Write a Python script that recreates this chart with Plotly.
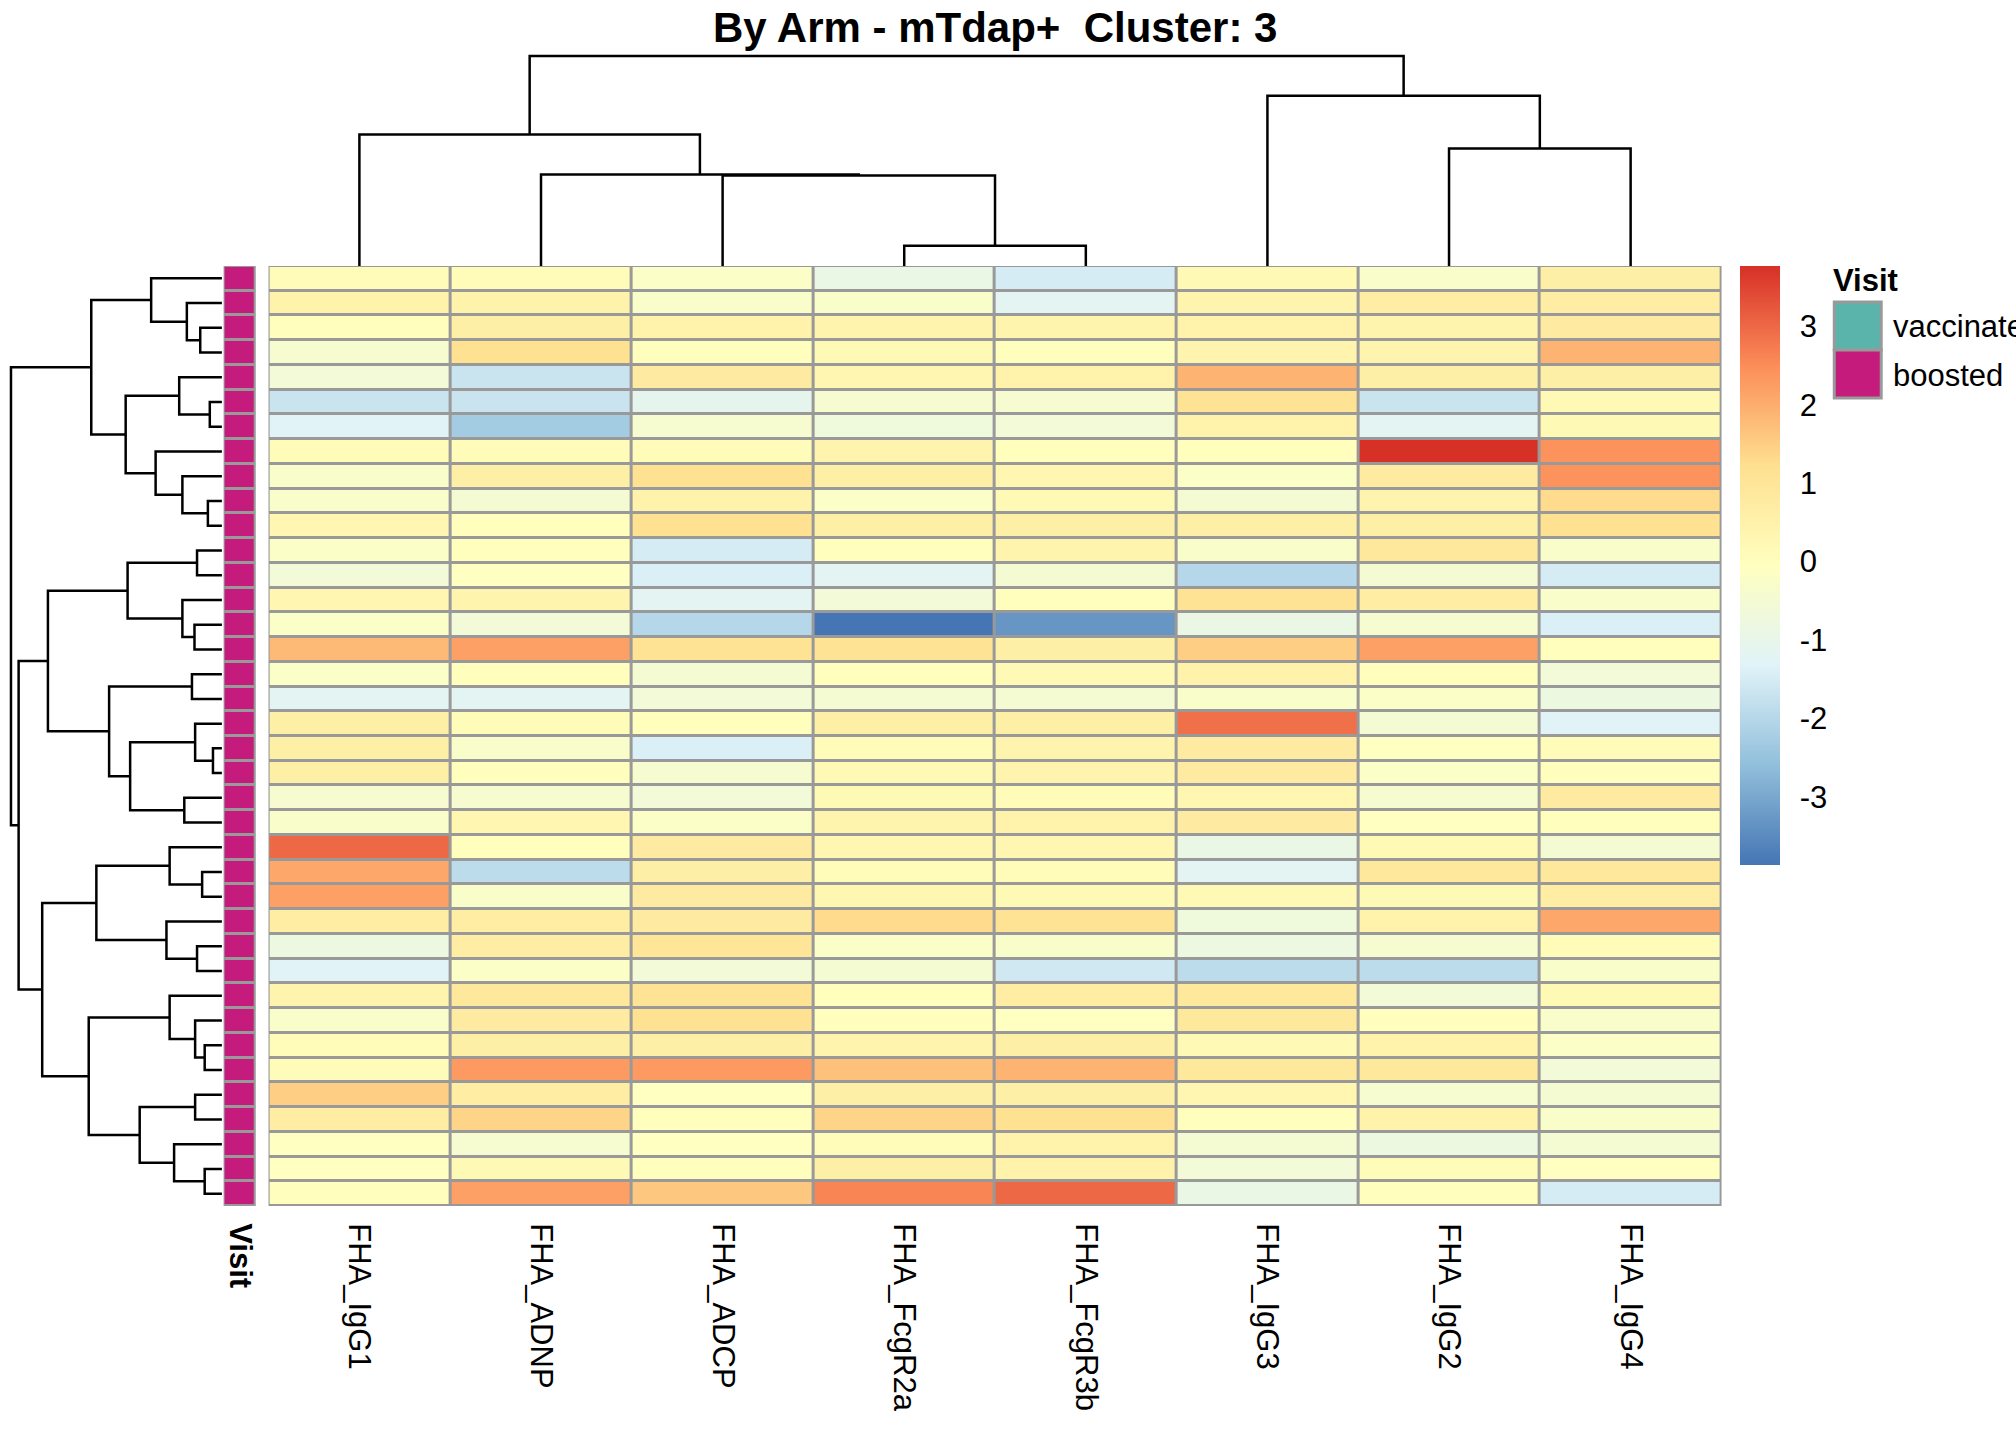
import plotly.graph_objects as go

W, H = 2016, 1440

# columns of the heatmap (display order, left to right)
features = ["FHA_IgG1", "FHA_ADNP", "FHA_ADCP", "FHA_FcgR2a",
            "FHA_FcgR3b", "FHA_IgG3", "FHA_IgG2", "FHA_IgG4"]

# scaled values per feature, rows in display order (top to bottom)
fha_igg1 = [0.1, 0.5, 0.0, -0.4, -0.6, -1.7, -1.3, 0.1, -0.3, -0.3, 0.3, -0.2, -0.6,
            0.3, -0.2, 1.8, -0.2, -1.2, 0.6, 0.6, 0.6, -0.4, -0.3, 3.0, 2.1, 2.2,
            0.7, -0.8, -1.3, 0.4, -0.3, 0.1, 0.1, 1.5, 0.7, -0.1, -0.1, 0.0]
fha_adnp = [0.1, 0.5, 0.6, 1.2, -1.7, -1.7, -2.3, 0.1, 0.6, -0.5, 0.0, 0.0, -0.1,
            0.4, -0.6, 2.2, 0.0, -1.2, 0.1, -0.3, 0.0, -0.4, 0.3, 0.0, -1.9, -0.3,
            0.7, 0.7, -0.2, 0.9, 0.8, 0.6, 2.3, 0.7, 1.4, -0.4, 0.2, 2.2]
fha_adcp = [-0.2, -0.3, 0.5, 0.0, 0.8, -1.1, -0.4, 0.1, 1.2, 0.5, 1.2, -1.5, -1.4,
            -1.2, -2.0, 1.1, -0.5, -0.6, 0.0, -1.4, -0.4, -0.6, -0.2, 0.8, 0.6, 0.8,
            0.8, 1.0, -0.6, 1.1, 1.2, 0.6, 2.3, -0.1, 0.0, -0.1, 0.0, 1.6]
fha_fcgr2a = [-0.9, -0.3, 0.4, 0.2, 0.3, -0.4, -0.7, 0.4, 0.6, -0.2, 0.6, 0.0, -1.2,
              -0.6, -3.87, 1.1, 0.0, -0.5, 0.6, 0.1, 0.2, 0.2, 0.4, 0.3, 0.1, 0.3,
              1.3, -0.2, -0.5, 0.0, 0.0, 0.4, 1.7, 0.6, 1.4, 0.1, 0.6, 2.6]
fha_fcgr3b = [-1.5, -1.2, 0.4, 0.0, 0.5, -0.4, -0.6, 0.0, 0.3, 0.2, 0.6, 0.4, -0.5,
              0.0, -3.3, 0.6, 0.2, -0.5, 0.6, 0.4, 0.4, 0.1, 0.5, 0.3, 0.1, 0.2,
              1.1, -0.3, -1.6, 0.7, -0.1, 0.6, 1.9, 0.6, 1.2, 0.5, 0.5, 3.0]
fha_igg3 = [0.2, 0.4, 0.5, 0.4, 1.9, 1.1, 0.5, 0.0, -0.2, -0.5, 0.6, -0.3, -2.0,
            1.1, -0.9, 1.5, 0.5, -0.3, 2.9, 0.8, 0.8, 0.3, 0.8, -0.9, -1.2, 0.2,
            -0.7, -0.8, -1.9, 0.9, 0.9, 0.2, 0.9, 0.3, 0.0, -0.5, -0.6, -0.9]
fha_igg2 = [-0.3, 0.7, 0.4, 0.4, 0.6, -1.7, -1.2, 3.77, 0.8, 0.4, 0.6, 0.9, -0.5,
            0.7, -0.4, 2.2, 0.0, -0.2, -0.5, -0.1, -0.2, -0.4, -0.1, 0.2, 0.9, 0.2,
            0.5, -0.4, -1.9, -0.6, 0.0, 0.5, 0.9, -0.4, 0.5, -0.8, 0.1, 0.0]
fha_igg4 = [0.6, 0.7, 0.8, 1.9, 0.6, 0.2, 0.2, 2.4, 2.4, 1.3, 1.2, -0.3, -1.5,
            -0.3, -1.4, 0.0, -0.6, -0.8, -1.3, 0.1, 0.0, 0.8, 0.0, -0.5, 0.9, 0.7,
            2.1, 0.1, -0.3, 0.2, -0.3, -0.2, -0.6, -0.5, -0.3, -0.5, -0.1, -1.5]

# Visit annotation per row
visit = ["boosted", "boosted", "boosted", "boosted", "boosted", "boosted", "boosted",
         "boosted", "boosted", "boosted", "boosted", "boosted", "boosted", "boosted",
         "boosted", "boosted", "boosted", "boosted", "boosted", "boosted", "boosted",
         "boosted", "boosted", "boosted", "boosted", "boosted", "boosted", "boosted",
         "boosted", "boosted", "boosted", "boosted", "boosted", "boosted", "boosted",
         "boosted", "boosted", "boosted"]
visit_levels = ["vaccinated", "boosted"]
visit_colors = ["#5AB4AC", "#C51B7D"]

# colour key ticks
key_ticks = [-3, -2, -1, 0, 1, 2, 3]
key_labels = ["-3", "-2", "-1", "0", "1", "2", "3"]

# hclust style merges: negative = leaf (display position), positive = earlier merge
row_merges = [(-3, -4), (-2, 1), (-1, 2), (-6, -7), (-5, 4), (-10, -11), (-9, 6),
              (-8, 7), (5, 8), (3, 9), (-12, -13), (-15, -16), (-14, 12), (11, 13),
              (-17, -18), (-20, -21), (-19, 16), (-22, -23), (17, 18), (15, 19),
              (14, 20), (-25, -26), (-24, 22), (-28, -29), (-27, 24), (23, 25),
              (-32, -33), (-31, 27), (-30, 28), (-37, -38), (-36, 30), (-34, -35),
              (32, 31), (29, 33), (26, 34), (21, 35), (10, 36)]
row_heights = [3.4, 5.5, 11.1, 1.9, 6.7, 2.2, 6.2, 10.4, 15.1, 20.5, 3.9, 4.3, 6.2,
               14.8, 4.7, 1.4, 4.2, 5.9, 14.4, 17.7, 27.3, 3.1, 8.2, 3.9, 8.7, 19.7,
               2.7, 4.2, 8.2, 2.7, 7.5, 4.2, 12.9, 20.9, 28.2, 31.9, 33.1]
col_merges = [(-4, -5), (-3, 1), (-2, 2), (-1, 3), (-7, -8), (-6, 5), (4, 6)]
col_heights = [0.61, 2.72, 2.75, 3.95, 3.53, 5.12, 6.31]

# pheatmap default palette: rev(RdYlBu, 7)
palette = ["#4575B4", "#91BFDB", "#E0F3F8", "#FFFFBF", "#FEE090", "#FC8D59", "#D73027"]

FONT = "Liberation Sans, Arial, sans-serif"
GRID = "#999999"


def dendro_lines(merges, heights):
    # leaf-axis positions and heights of the U shaped links
    pos, hgt = {}, {}
    p_out, h_out = [], []

    def where(k):
        if k < 0:
            return -k - 1, 0.0
        return pos[k], hgt[k]

    for i, ((a, b), h) in enumerate(zip(merges, heights), start=1):
        pa, ha = where(a)
        pb, hb = where(b)
        p_out += [pa, pa, pb, pb, None]
        h_out += [ha, h, h, hb, None]
        pos[i] = (pa + pb) / 2
        hgt[i] = h
    return p_out, h_out


def px(x):
    return x / W


def py(y):
    return 1 - y / H


columns = [fha_igg1, fha_adnp, fha_adcp, fha_fcgr2a, fha_fcgr3b, fha_igg3, fha_igg2, fha_igg4]
n_rows = len(fha_igg1)
z = [[col[r] for col in columns] for r in range(n_rows)]
zmin = min(min(c) for c in columns)
zmax = max(max(c) for c in columns)
colorscale = [[i / (len(palette) - 1), c] for i, c in enumerate(palette)]

fig = go.Figure()

# main heatmap
fig.add_trace(go.Heatmap(
    z=z, x=list(range(len(features))), y=list(range(n_rows)),
    colorscale=colorscale, zmin=zmin, zmax=zmax, xgap=3, ygap=3,
    xaxis="x", yaxis="y", hoverinfo="skip",
    colorbar=dict(
        x=px(1742), xanchor="left", y=py(266), yanchor="top",
        len=(865 - 266) / H, lenmode="fraction", thickness=40, thicknessmode="pixels",
        xpad=0, ypad=0, outlinewidth=0,
        tickvals=key_ticks, ticktext=key_labels, ticks="outside", ticklen=14,
        tickcolor="rgba(0,0,0,0)", tickfont=dict(family=FONT, size=31, color="black"),
    ),
))

# Visit annotation column
visit_code = [[visit_levels.index(v)] for v in visit]
fig.add_trace(go.Heatmap(
    z=visit_code, x=[0], y=list(range(n_rows)), xgap=3, ygap=3,
    colorscale=[[0, visit_colors[0]], [0.5, visit_colors[0]], [0.5, visit_colors[1]], [1, visit_colors[1]]],
    zmin=0, zmax=1, showscale=False, xaxis="x2", yaxis="y2", hoverinfo="skip",
))

# row dendrogram
rp, rh = dendro_lines(row_merges, row_heights)
fig.add_trace(go.Scatter(x=rh, y=rp, mode="lines", line=dict(color="black", width=2.5),
                         xaxis="x3", yaxis="y3", showlegend=False, hoverinfo="skip"))

# column dendrogram
cp, ch = dendro_lines(col_merges, col_heights)
fig.add_trace(go.Scatter(x=cp, y=ch, mode="lines", line=dict(color="black", width=2.5),
                         xaxis="x4", yaxis="y4", showlegend=False, hoverinfo="skip"))

hm_y = [py(1206), py(266)]
row_range = [n_rows - 0.5, -0.5]
hidden = dict(showgrid=False, zeroline=False, showticklabels=False, ticks="", showline=False)

fig.update_layout(
    width=W, height=H, margin=dict(l=0, r=0, t=0, b=0),
    paper_bgcolor="white", plot_bgcolor="white", showlegend=False,
    font=dict(family=FONT, color="black"),
    xaxis=dict(domain=[px(268), px(1723)], range=[-0.5, len(features) - 0.5],
               tickvals=list(range(len(features))), ticktext=features, tickangle=90,
               ticks="outside", ticklen=10, tickcolor="rgba(0,0,0,0)",
               tickfont=dict(family=FONT, size=31, color="black"),
               showgrid=False, zeroline=False, anchor="y"),
    yaxis=dict(domain=hm_y, range=row_range, anchor="x", **hidden),
    xaxis2=dict(domain=[px(223), px(255)], range=[-0.5, 0.5], tickvals=[0],
                ticktext=["<b>Visit</b>"], tickangle=90,
                ticks="outside", ticklen=10, tickcolor="rgba(0,0,0,0)",
                tickfont=dict(family=FONT, size=31, color="black"),
                showgrid=False, zeroline=False, anchor="y2"),
    yaxis2=dict(domain=hm_y, range=row_range, anchor="x2", **hidden),
    xaxis3=dict(domain=[px(6.8), px(222.5)], range=[33.6, -0.2], anchor="y3", **hidden),
    yaxis3=dict(domain=hm_y, range=row_range, anchor="x3", **hidden),
    xaxis4=dict(domain=[px(268), px(1723)], range=[-0.5, len(features) - 0.5], anchor="y4", **hidden),
    yaxis4=dict(domain=[py(266), py(52.7)], range=[0, 6.41], anchor="x4", **hidden),
)

# grey cell borders behind the two heatmaps
fig.add_shape(type="rect", xref="x", yref="y", x0=-0.5, x1=len(features) - 0.5,
              y0=-0.5, y1=n_rows - 0.5, fillcolor=GRID, line=dict(color=GRID, width=3),
              layer="below")
fig.add_shape(type="rect", xref="x2", yref="y2", x0=-0.5, x1=0.5,
              y0=-0.5, y1=n_rows - 0.5, fillcolor=GRID, line=dict(color=GRID, width=3),
              layer="below")

# title
fig.add_annotation(text="<b>By Arm - mTdap+ \u00a0Cluster: 3</b>", x=px(995), y=py(27),
                   xref="paper", yref="paper", xanchor="center", yanchor="middle",
                   showarrow=False, font=dict(family=FONT, size=42, color="black"))

# Visit legend
fig.add_annotation(text="<b>Visit</b>", x=px(1833), y=py(281), xref="paper", yref="paper",
                   xanchor="left", yanchor="middle", showarrow=False,
                   font=dict(family=FONT, size=31, color="black"))
for i, (lev, colr) in enumerate(zip(visit_levels, visit_colors)):
    top = 302 + i * 48
    fig.add_shape(type="rect", xref="paper", yref="paper", x0=px(1836), x1=px(1883),
                  y0=py(top + 48), y1=py(top), fillcolor=colr, line=dict(color=GRID, width=3))
    fig.add_annotation(text=lev, x=px(1893), y=py(top + 25), xref="paper", yref="paper",
                       xanchor="left", yanchor="middle", showarrow=False,
                       font=dict(family=FONT, size=31, color="black"))

fig.write_html("out.html", config={"displayModeBar": False},
               post_script="document.body.style.margin='0';")
